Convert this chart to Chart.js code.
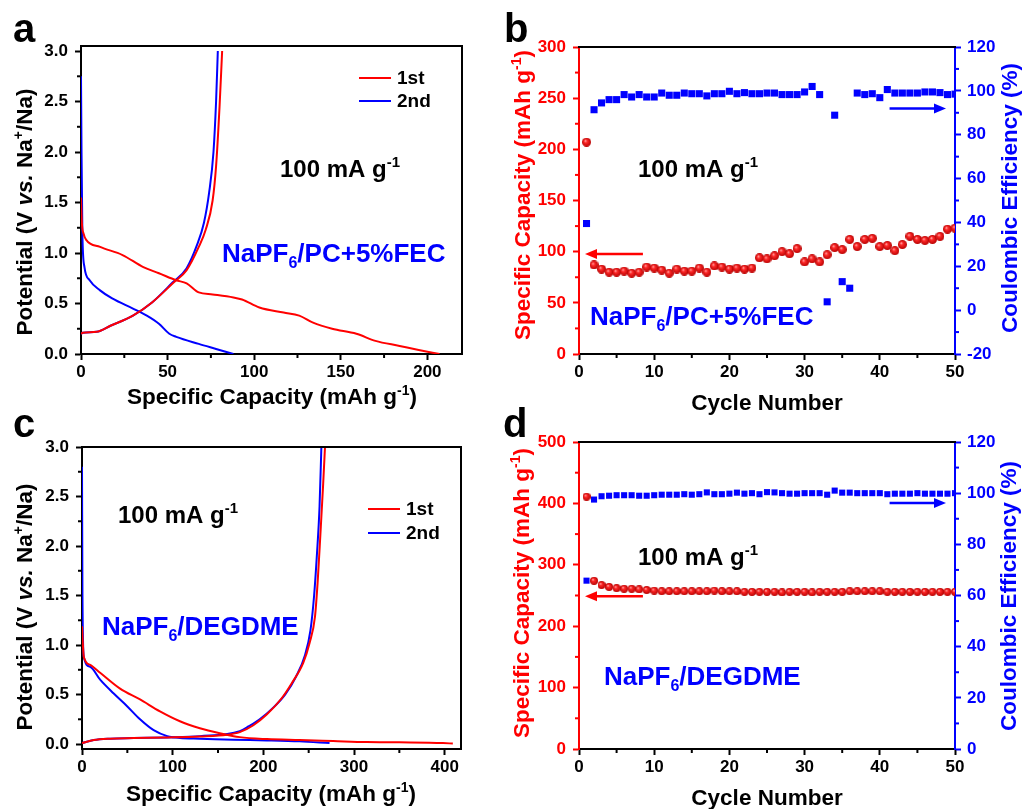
<!DOCTYPE html>
<html>
<head>
<meta charset="utf-8">
<script src="https://cdn.jsdelivr.net/npm/chart.js@4.4.1/dist/chart.umd.min.js"></script>
<style>
  html, body { margin: 0; padding: 0; background: #fff; }
  #wrap { position: relative; width: 1030px; height: 809px; }
  canvas { position: absolute; left: 0; top: 0; }
</style>
</head>
<body>
<div id="wrap">
  <canvas id="ca" width="1030" height="809"></canvas>
  <canvas id="cb" width="1030" height="809"></canvas>
  <canvas id="cc" width="1030" height="809"></canvas>
  <canvas id="cd" width="1030" height="809"></canvas>
</div>
<script>
// ---- panel a : NaPF6/PC+5%FEC, charge/discharge profiles ----
const aDis1Cap = [0, 0.5, 1.5, 3, 11, 24, 36, 45, 55, 61, 68, 76, 88, 93, 103, 117, 126, 134, 145, 159, 170, 184, 195, 207];
const aDis1V   = [1.55, 1.3, 1.19, 1.13, 1.06, 0.98, 0.86, 0.80, 0.73, 0.70, 0.61, 0.59, 0.56, 0.54, 0.46, 0.41, 0.38, 0.31, 0.25, 0.20, 0.13, 0.08, 0.04, 0];
const aCha1Cap = [0, 1, 9, 17, 30, 41, 53, 61, 68, 72, 76, 78, 80, 81.5];
const aCha1V   = [0.2, 0.21, 0.22, 0.28, 0.38, 0.51, 0.70, 0.83, 1.06, 1.23, 1.52, 1.86, 2.45, 3.0];
const aDis2Cap = [0, 0.3, 0.8, 2, 5, 11, 18, 30, 38, 45, 51, 55, 68, 78, 88];
const aDis2V   = [2.75, 2.0, 1.19, 0.86, 0.73, 0.63, 0.55, 0.45, 0.38, 0.30, 0.20, 0.17, 0.10, 0.05, 0];
const aCha2Cap = [0, 1, 9, 17, 30, 41, 53, 61, 67, 71, 74, 76.5, 78, 79];
const aCha2V   = [0.2, 0.21, 0.22, 0.28, 0.38, 0.51, 0.71, 0.85, 1.08, 1.3, 1.6, 2.0, 2.5, 3.0];

// ---- panel c : NaPF6/DEGDME, charge/discharge profiles ----
const cDis1Cap = [0, 1, 2, 9, 20, 42, 64, 86, 108, 130, 152, 174, 204, 240, 277, 314, 350, 398, 409];
const cDis1V   = [1.19, 1.0, 0.88, 0.80, 0.72, 0.56, 0.45, 0.33, 0.23, 0.16, 0.11, 0.07, 0.05, 0.04, 0.03, 0.02, 0.017, 0.01, 0.005];
const cCha1Cap = [0, 13, 31, 57, 94, 130, 160, 174, 189, 204, 220, 231, 244, 251, 257, 260, 263, 266, 268];
const cCha1V   = [0.01, 0.04, 0.054, 0.06, 0.067, 0.077, 0.094, 0.12, 0.19, 0.30, 0.46, 0.61, 0.82, 1.02, 1.29, 1.65, 2.13, 2.63, 3.0];
const cDis2Cap = [0, 0.5, 2, 9, 20, 35, 50, 64, 79, 94, 108, 130, 167, 204, 240, 273];
const cDis2V   = [2.8, 1.5, 0.88, 0.78, 0.65, 0.51, 0.38, 0.25, 0.14, 0.08, 0.06, 0.054, 0.044, 0.037, 0.027, 0.01];
const cCha2Cap = [0, 13, 31, 57, 94, 130, 174, 184, 196, 210, 224, 236, 246, 252, 256, 259, 262, 264];
const cCha2V   = [0.01, 0.04, 0.054, 0.06, 0.067, 0.08, 0.13, 0.18, 0.25, 0.36, 0.50, 0.68, 0.90, 1.15, 1.5, 1.9, 2.4, 3.0];

// ---- panels b, d : cycling ----
const cycles = [1, 2, 3, 4, 5, 6, 7, 8, 9, 10, 11, 12, 13, 14, 15, 16, 17, 18, 19, 20,
  21, 22, 23, 24, 25, 26, 27, 28, 29, 30, 31, 32, 33, 34, 35, 36, 37, 38, 39, 40,
  41, 42, 43, 44, 45, 46, 47, 48, 49, 50];
const bCap = [207, 87, 83, 80, 80, 81, 79, 80, 85, 84, 82, 79, 83, 81, 81, 84, 80, 86, 85, 83,
  84, 83, 84, 94, 93, 96, 100, 98, 103, 90, 93, 90, 97, 104, 102, 112, 105, 112, 113, 105,
  106, 101, 107, 115, 112, 111, 112, 115, 122, 123];
const bCE = [39.5, 91.4, 94.5, 96, 96, 98.3, 97.2, 98.3, 97.2, 97.2, 99, 98, 98, 99, 98.7, 98.7, 97.7, 98.7, 98.7, 99.8,
  98.7, 99.2, 98.7, 98.7, 99, 99, 98.3, 98.3, 98.3, 99.5, 102, 98.3, 3.8, 88.9, 13, 10, 99, 98.3, 98.7, 96.9,
  100.6, 99, 99, 99, 99, 99.5, 99.5, 99.2, 98.3, 98.5];
const dCap = [411, 274, 267, 264, 262, 261, 261, 260, 259, 258, 257, 257, 257, 257, 257, 257, 257, 258, 257, 257,
  257, 256, 256, 256, 256, 256, 255, 256, 256, 256, 255, 256, 256, 256, 256, 257, 257, 257, 257, 257,
  256, 256, 256, 256, 256, 256, 256, 256, 256, 256];
const dCE = [65.8, 97.5, 98.8, 99.0, 99.2, 99.2, 99.2, 99.0, 99.0, 99.2, 99.4, 99.4, 99.4, 99.6, 99.4, 99.6, 100.3, 99.6, 99.6, 99.8,
  100.2, 99.8, 100.0, 99.6, 100.4, 100.3, 100.0, 99.8, 99.8, 100, 100, 100, 99.4, 101, 100.2, 100.2, 100, 100, 100, 100,
  99.6, 99.8, 99.8, 99.8, 100, 99.8, 99.8, 99.8, 99.8, 100];

// arrows: [from cycle, to cycle, value on the axis]
const bArrowCap = [8.5, 0.8, 97.6];
const bArrowCE = [41.3, 48.8, 91.9];
const dArrowCap = [8.5, 0.8, 248.6];
const dArrowCE = [41.3, 48.8, 96.2];

const RED = '#ff0000';
const BLUE = '#0000ff';
const F = '"Liberation Sans", Arial, sans-serif';
const TITLE = 22.5;

function sphere(d) {
  const c = document.createElement('canvas');
  c.width = d; c.height = d;
  const g = c.getContext('2d');
  const r = d / 2;
  const grad = g.createRadialGradient(r * 0.7, r * 0.65, 0, r, r, r);
  grad.addColorStop(0, '#ffc4c4');
  grad.addColorStop(0.35, '#ff2a2a');
  grad.addColorStop(1, '#b80000');
  g.fillStyle = grad;
  g.beginPath(); g.arc(r, r, r, 0, Math.PI * 2); g.fill();
  return c;
}

function curve(xs, ys, color) {
  return {
    data: xs.map((x, i) => ({x: x, y: ys[i]})),
    borderColor: color, borderWidth: 2, pointRadius: 0,
    cubicInterpolationMode: 'monotone', fill: false
  };
}

function drawRich(ctx, it) {
  const size = it.size;
  const segs = it.parts.map(p => typeof p === 'string' ? {t: p} : Object.assign({}, p));
  const fontOf = s => (s.i ? 'italic ' : '') + 'bold ' + ((s.sup || s.sub) ? Math.round(size * 0.62) : size) + 'px ' + F;
  let w = 0;
  segs.forEach(s => { ctx.font = fontOf(s); s.w = ctx.measureText(s.t).width; w += s.w; });
  ctx.save();
  ctx.translate(it.x, it.y);
  if (it.rot) ctx.rotate(it.rot * Math.PI / 180);
  ctx.fillStyle = it.color || '#000';
  ctx.textBaseline = 'alphabetic';
  ctx.textAlign = 'left';
  let x = it.align === 'center' ? -w / 2 : 0;
  segs.forEach(s => {
    ctx.font = fontOf(s);
    const dy = s.sup ? -size * 0.42 : (s.sub ? size * 0.22 : 0);
    ctx.fillText(s.t, x, dy);
    x += s.w;
  });
  ctx.restore();
}

// minor ticks, frame lines, arrows, legend and labels
const extras = {
  id: 'extras',
  afterDraw(chart, args, o) {
    const ctx = chart.ctx;
    const ca = chart.chartArea;
    ctx.save();
    (o.minor || []).forEach(m => {
      const s = chart.scales[m.axis];
      ctx.strokeStyle = m.color; ctx.lineWidth = 2;
      const start = Math.ceil(s.min / m.step - 1e-9) * m.step;
      for (let v = start; v <= s.max + 1e-9; v += m.step) {
        const r = v / m.major;
        if (Math.abs(r - Math.round(r)) < 1e-6) continue;
        const p = s.getPixelForValue(v);
        ctx.beginPath();
        if (m.axis === 'x') { ctx.moveTo(p, ca.bottom); ctx.lineTo(p, ca.bottom + 4); }
        else if (s.position === 'left') { ctx.moveTo(ca.left, p); ctx.lineTo(ca.left - 4, p); }
        else { ctx.moveTo(ca.right, p); ctx.lineTo(ca.right + 4, p); }
        ctx.stroke();
      }
    });
    ctx.strokeStyle = '#000'; ctx.lineWidth = 2;
    ctx.beginPath(); ctx.moveTo(ca.left - 1, ca.top); ctx.lineTo(ca.right + 1, ca.top); ctx.stroke();
    if (o.rightFrame) { ctx.beginPath(); ctx.moveTo(ca.right, ca.top); ctx.lineTo(ca.right, ca.bottom); ctx.stroke(); }
    (o.arrows || []).forEach(a => {
      const sx = chart.scales.x, sy = chart.scales[a.axis];
      const x1 = sx.getPixelForValue(a.v[0]), x2 = sx.getPixelForValue(a.v[1]);
      const y = sy.getPixelForValue(a.v[2]);
      const dir = x2 > x1 ? 1 : -1;
      ctx.strokeStyle = a.color; ctx.fillStyle = a.color; ctx.lineWidth = 2.5;
      ctx.beginPath(); ctx.moveTo(x1, y); ctx.lineTo(x2 - dir * 8, y); ctx.stroke();
      ctx.beginPath(); ctx.moveTo(x2, y); ctx.lineTo(x2 - dir * 12, y - 5); ctx.lineTo(x2 - dir * 12, y + 5); ctx.closePath(); ctx.fill();
    });
    (o.legend || []).forEach(l => {
      ctx.strokeStyle = l.color; ctx.lineWidth = 2;
      ctx.beginPath(); ctx.moveTo(l.x, l.y); ctx.lineTo(l.x + 32, l.y); ctx.stroke();
      ctx.fillStyle = '#000'; ctx.font = 'bold 19px ' + F; ctx.textBaseline = 'middle';
      ctx.fillText(l.label, l.x + 38, l.y + 1);
    });
    ctx.restore();
    (o.texts || []).forEach(t => drawRich(ctx, t));
  }
};

function axis(color, step, fmt, pad) {
  return {
    type: 'linear',
    ticks: {
      stepSize: step, includeBounds: false, autoSkip: false, maxRotation: 0, padding: pad,
      color: color, font: {family: F, size: 17, weight: 'bold'},
      callback: fmt
    },
    grid: {drawOnChartArea: false, drawTicks: true, tickLength: 6, tickWidth: 2, tickColor: color},
    border: {display: true, color: color, width: 2}
  };
}
const fixW = w => s => { s.width = w; };
const fixH = h => s => { s.height = h; };
const int = v => String(v);
const one = v => v.toFixed(1);

function base(padding, extrasOpts) {
  return {
    responsive: false, animation: false, devicePixelRatio: 1,
    layout: {padding: padding},
    plugins: {legend: {display: false}, tooltip: {enabled: false}, extras: extrasOpts}
  };
}

const rateText = (x, y) => ({x: x, y: y, size: 24, parts: ['100 mA g', {t: '-1', sup: true}]});
const capTitle = ['Specific Capacity (mAh g', {t: '-1', sup: true}, ')'];
const potTitle = ['Potential (V ', {t: 'vs.', i: true}, ' Na', {t: '+', sup: true}, '/Na)'];

// ---------- a ----------
{
  const opt = base({left: 21, right: 568, top: 46, bottom: 425}, {
    rightFrame: true,
    minor: [{axis: 'x', step: 25, major: 50, color: '#000'}, {axis: 'y', step: 0.25, major: 0.5, color: '#000'}],
    legend: [{x: 359, y: 78, color: RED, label: '1st'}, {x: 359, y: 101, color: BLUE, label: '2nd'}],
    texts: [
      {x: 13, y: 42, size: 40, parts: ['a']},
      {x: 32, y: 212, rot: -90, align: 'center', size: TITLE, parts: potTitle},
      {x: 272, y: 404, align: 'center', size: TITLE, parts: capTitle},
      rateText(280, 177),
      {x: 222, y: 262, size: 26, color: BLUE, parts: ['NaPF', {t: '6', sub: true}, '/PC+5%FEC']}
    ]
  });
  opt.scales = {
    x: Object.assign(axis('#000', 50, int, 2), {min: 0, max: 220, afterFit: fixH(30)}),
    y: Object.assign(axis('#000', 0.5, one, 7), {min: 0, max: 3.05, afterFit: fixW(60)})
  };
  new Chart(document.getElementById('ca'), {
    type: 'line',
    data: {datasets: [curve(aDis1Cap, aDis1V, RED), curve(aCha1Cap, aCha1V, RED),
      curve(aDis2Cap, aDis2V, BLUE), curve(aCha2Cap, aCha2V, BLUE)]},
    options: opt,
    plugins: [extras]
  });
}

// ---------- b ----------
{
  const opt = base({left: 519, right: 15, top: 47, bottom: 425}, {
    minor: [{axis: 'x', step: 5, major: 10, color: '#000'}, {axis: 'y', step: 25, major: 50, color: RED},
      {axis: 'y2', step: 10, major: 20, color: BLUE}],
    arrows: [{axis: 'y', v: bArrowCap, color: RED}, {axis: 'y2', v: bArrowCE, color: BLUE}],
    texts: [
      {x: 504, y: 42, size: 40, parts: ['b']},
      {x: 530, y: 195, rot: -90, align: 'center', size: TITLE, color: RED, parts: capTitle},
      {x: 1017, y: 198, rot: -90, align: 'center', size: TITLE, color: BLUE, parts: ['Coulombic Efficiency (%)']},
      {x: 767, y: 410, align: 'center', size: TITLE, parts: ['Cycle Number']},
      rateText(638, 177),
      {x: 590, y: 325, size: 26, color: BLUE, parts: ['NaPF', {t: '6', sub: true}, '/PC+5%FEC']}
    ]
  });
  opt.scales = {
    x: Object.assign(axis('#000', 10, int, 2), {min: 0, max: 50, afterFit: fixH(30)}),
    y: Object.assign(axis(RED, 50, int, 7), {min: 0, max: 300, position: 'left', afterFit: fixW(60)}),
    y2: Object.assign(axis(BLUE, 20, int, 6), {min: -20, max: 120, position: 'right', afterFit: fixW(60)})
  };
  new Chart(document.getElementById('cb'), {
    type: 'scatter',
    data: {datasets: [
      {data: cycles.map((c, i) => ({x: c, y: bCap[i]})), yAxisID: 'y', pointStyle: sphere(9), pointRadius: 4.5},
      {data: cycles.map((c, i) => ({x: c, y: bCE[i]})), yAxisID: 'y2', pointStyle: 'rect', pointRadius: 5,
        pointBackgroundColor: BLUE, pointBorderWidth: 0}
    ]},
    options: opt,
    plugins: [extras]
  });
}

// ---------- c ----------
{
  const opt = base({left: 22, right: 569, top: 447, bottom: 30}, {
    rightFrame: true,
    minor: [{axis: 'x', step: 50, major: 100, color: '#000'}, {axis: 'y', step: 0.25, major: 0.5, color: '#000'}],
    legend: [{x: 368, y: 509, color: RED, label: '1st'}, {x: 368, y: 533, color: BLUE, label: '2nd'}],
    texts: [
      {x: 13, y: 437, size: 40, parts: ['c']},
      {x: 32, y: 607, rot: -90, align: 'center', size: TITLE, parts: potTitle},
      {x: 271, y: 801, align: 'center', size: TITLE, parts: capTitle},
      rateText(118, 523),
      {x: 102, y: 635, size: 26, color: BLUE, parts: ['NaPF', {t: '6', sub: true}, '/DEGDME']}
    ]
  });
  opt.scales = {
    x: Object.assign(axis('#000', 100, int, 2), {min: 0, max: 418, afterFit: fixH(30)}),
    y: Object.assign(axis('#000', 0.5, one, 7), {min: -0.05, max: 3.0, afterFit: fixW(60)})
  };
  new Chart(document.getElementById('cc'), {
    type: 'line',
    data: {datasets: [curve(cDis1Cap, cDis1V, RED), curve(cCha1Cap, cCha1V, RED),
      curve(cDis2Cap, cDis2V, BLUE), curve(cCha2Cap, cCha2V, BLUE)]},
    options: opt,
    plugins: [extras]
  });
}

// ---------- d ----------
{
  const opt = base({left: 519, right: 15, top: 442, bottom: 30}, {
    minor: [{axis: 'x', step: 5, major: 10, color: '#000'}, {axis: 'y', step: 50, major: 100, color: RED},
      {axis: 'y2', step: 10, major: 20, color: BLUE}],
    arrows: [{axis: 'y', v: dArrowCap, color: RED}, {axis: 'y2', v: dArrowCE, color: BLUE}],
    texts: [
      {x: 503, y: 437, size: 40, parts: ['d']},
      {x: 529, y: 593, rot: -90, align: 'center', size: TITLE, color: RED, parts: capTitle},
      {x: 1016, y: 596, rot: -90, align: 'center', size: TITLE, color: BLUE, parts: ['Coulombic Efficiency (%)']},
      {x: 767, y: 805, align: 'center', size: TITLE, parts: ['Cycle Number']},
      rateText(638, 565),
      {x: 604, y: 685, size: 26, color: BLUE, parts: ['NaPF', {t: '6', sub: true}, '/DEGDME']}
    ]
  });
  opt.scales = {
    x: Object.assign(axis('#000', 10, int, 2), {min: 0, max: 50, afterFit: fixH(30)}),
    y: Object.assign(axis(RED, 100, int, 7), {min: 0, max: 500, position: 'left', afterFit: fixW(60)}),
    y2: Object.assign(axis(BLUE, 20, int, 6), {min: 0, max: 120, position: 'right', afterFit: fixW(60)})
  };
  new Chart(document.getElementById('cd'), {
    type: 'scatter',
    data: {datasets: [
      {data: cycles.map((c, i) => ({x: c, y: dCap[i]})), yAxisID: 'y', pointStyle: sphere(8), pointRadius: 4},
      {data: cycles.map((c, i) => ({x: c, y: dCE[i]})), yAxisID: 'y2', pointStyle: 'rect', pointRadius: 4.3,
        pointBackgroundColor: BLUE, pointBorderWidth: 0}
    ]},
    options: opt,
    plugins: [extras]
  });
}
</script>
</body>
</html>
